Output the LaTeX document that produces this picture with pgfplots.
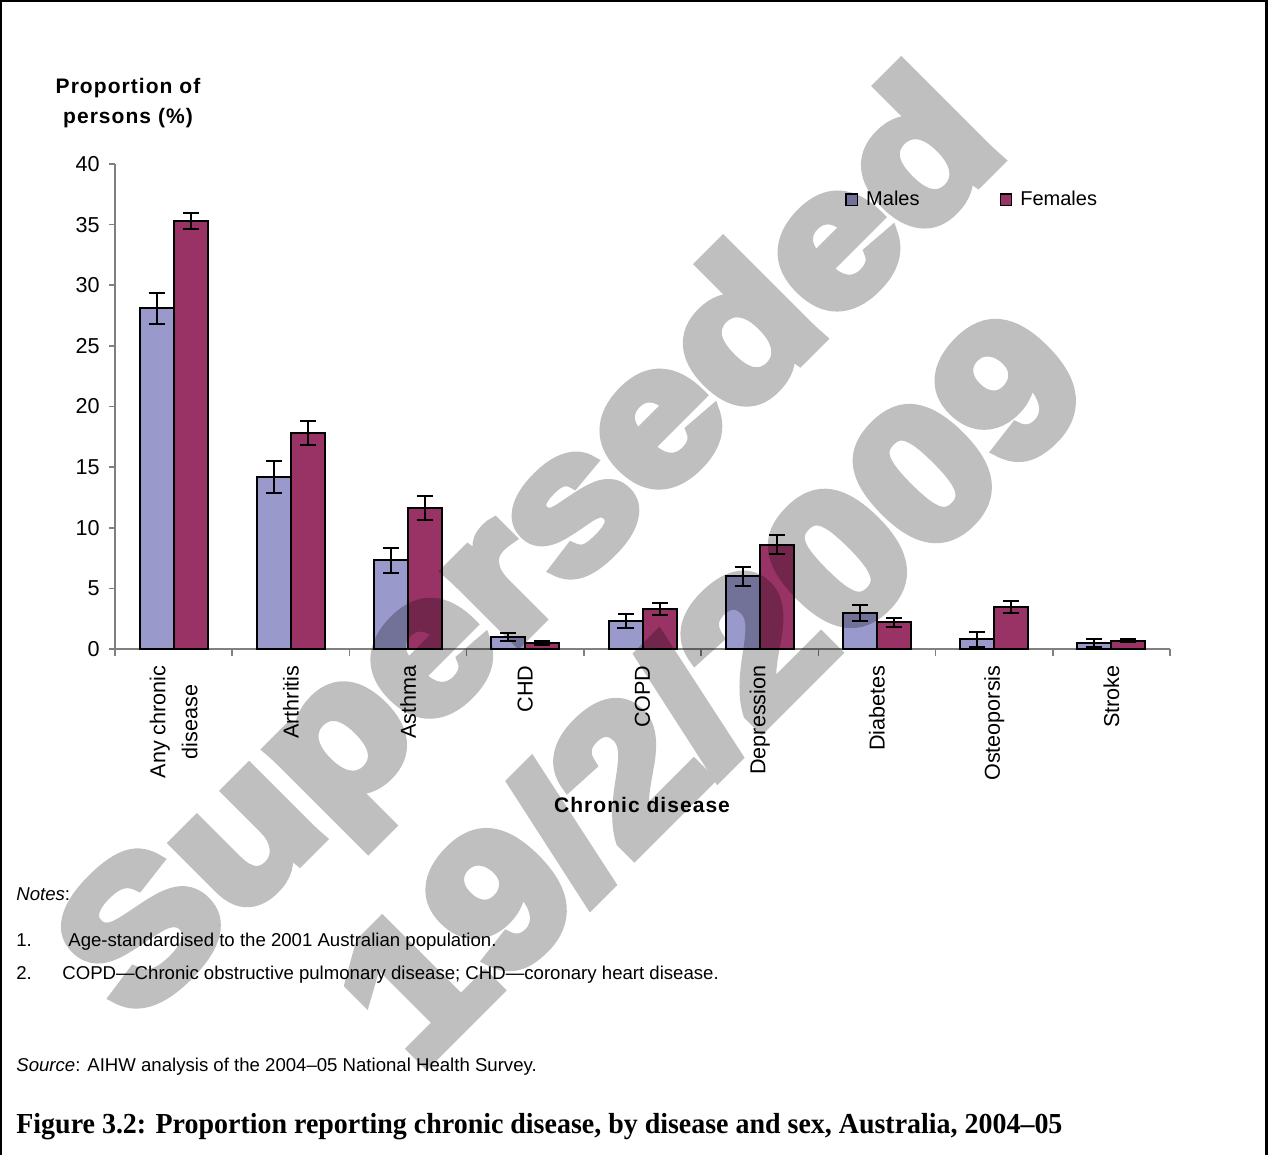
\documentclass[border=0pt]{standalone}
\usepackage{pgfplots}
\pgfplotsset{compat=1.18}
\usepackage{pgfplotstable}
\usepackage{graphicx}
\usepackage{fontspec}
\setmainfont{Liberation Sans}
\newfontfamily\capfont{Liberation Serif}[Ligatures=TeX]
\newfontfamily\wmfont{Liberation Sans}[BoldFeatures={FakeBold=6}]
\definecolor{malec}{HTML}{9999CC}
\definecolor{femalec}{HTML}{993366}
\definecolor{axgray}{HTML}{808080}

\pgfplotstableread{
x m me f fe
0 28.1 1.3 35.3 0.7
1 14.2 1.3 17.8 1.0
2 7.3 1.0 11.6 1.0
3 1.0 0.35 0.5 0.15
4 2.3 0.55 3.3 0.5
5 6.0 0.8 8.6 0.8
6 3.0 0.65 2.2 0.35
7 0.8 0.6 3.5 0.5
8 0.5 0.3 0.7 0.15
}\datatab

\begin{document}
\begin{tikzpicture}
\path[use as bounding box] (0,0) rectangle (634bp,-577.5bp);
\begin{axis}[
  at={(57.5bp,-324.5bp)}, anchor=south west,
  scale only axis, width=527.5bp, height=242.5bp,
  ybar=0pt, bar width=17bp,
  xmin=-0.5, xmax=8.5, ymin=0, ymax=40,
  axis x line*=bottom, axis y line*=left,
  axis line style={axgray, line width=0.8bp},
  xtick={0,...,8},
  xticklabels={{Any chronic\\disease},Arthritis,Asthma,CHD,COPD,Depression,Diabetes,Osteoporsis,Stroke},
  major x tick style={draw=none},
  minor xtick={-0.5,0.5,...,8.5},
  minor x tick style={axgray, line width=0.8bp},
  minor tick length=3.5bp,
  ytick={0,5,...,40},
  y tick style={axgray, line width=0.8bp},
  major tick length=3bp,
  tick align=outside,
  /pgf/number format/assume math mode=true,
  tick label style={font=\fontsize{10.8bp}{16bp}\selectfont, text=black},
  xticklabel style={rotate=90, anchor=east, align=center, inner sep=0pt, xshift=-5bp},
  yticklabel style={inner sep=0pt, xshift=-4.5bp},
  legend style={at={(0.692,0.926)}, anchor=west, draw=none, fill=none, inner sep=0pt,
    font=\fontsize{10bp}{12bp}\selectfont,
    /tikz/every odd column/.append style={column sep=2bp},
    /tikz/every even column/.append style={column sep=38bp}},
  legend columns=2,
  legend image code/.code={\draw[#1,draw=black,line width=0.8bp] (0bp,-2.8bp) rectangle (5.6bp,2.8bp);},
  clip=false,
]
\addplot[fill=malec, draw=black, line width=1bp,
  error bars/.cd, y dir=both, y explicit,
  error bar style={black, line width=1bp},
  error mark options={rotate=90, black, line width=1bp, mark size=4bp}]
  table[x=x, y=m, y error=me] {\datatab};
\addplot[fill=femalec, draw=black, line width=1bp,
  error bars/.cd, y dir=both, y explicit,
  error bar style={black, line width=1bp},
  error mark options={rotate=90, black, line width=1bp, mark size=4bp}]
  table[x=x, y=f, y error=fe] {\datatab};
\legend{Males,Females}
\end{axis}

% axis titles
\node[align=center, font=\fontsize{10.5bp}{15bp}\selectfont\bfseries\addfontfeature{LetterSpace=5}, inner sep=0pt] at (64bp,-51.5bp) {Proportion of\\persons (\%)};
\node[font=\fontsize{10.5bp}{12bp}\selectfont\bfseries\addfontfeature{LetterSpace=5}, inner sep=0pt] at (321bp,-402.5bp) {Chronic disease};

% notes
\begin{scope}[every node/.style={anchor=base west, inner sep=0pt, font=\fontsize{9.3bp}{11bp}\selectfont}]
\node at (8bp,-450bp) {\textit{Notes}:};
\node at (8bp,-473bp) {1.};
\node at (34bp,-473bp) {Age-standardised to the 2001 Australian population.};
\node at (8bp,-489.5bp) {2.};
\node at (31bp,-489.5bp) {COPD---Chronic obstructive pulmonary disease; CHD---coronary heart disease.};
\node at (8bp,-535.5bp) {\textit{Source}: AIHW analysis of the 2004--05 National Health Survey.};
\end{scope}
\node[anchor=base west, inner sep=0pt, font=\capfont\bfseries\fontsize{14.5bp}{16bp}\selectfont] at (8bp,-566.5bp)
  {\resizebox{523bp}{\height}{Figure 3.2: Proportion reporting chronic disease, by disease and sex, Australia, 2004–05}};

% frame
\draw[line width=1.2bp] (0.6bp,-577.5bp) -- (0.6bp,-0.6bp) -- (633.2bp,-0.6bp) -- (633.2bp,-577.5bp);

% watermark
\begin{scope}[transparency group, opacity=0.25]
\node[rotate=45, anchor=base, inner sep=0pt, font=\wmfont\bfseries\fontsize{95bp}{95bp}\selectfont] at (286bp,-294bp) {\scalebox{1.136}[1]{Superseded}};
\node[rotate=45, anchor=base, inner sep=0pt, font=\wmfont\bfseries\fontsize{95bp}{95bp}\selectfont] at (378.5bp,-366bp) {\scalebox{1.136}[1]{19/2/2009}};
\end{scope}
\end{tikzpicture}
\end{document}
